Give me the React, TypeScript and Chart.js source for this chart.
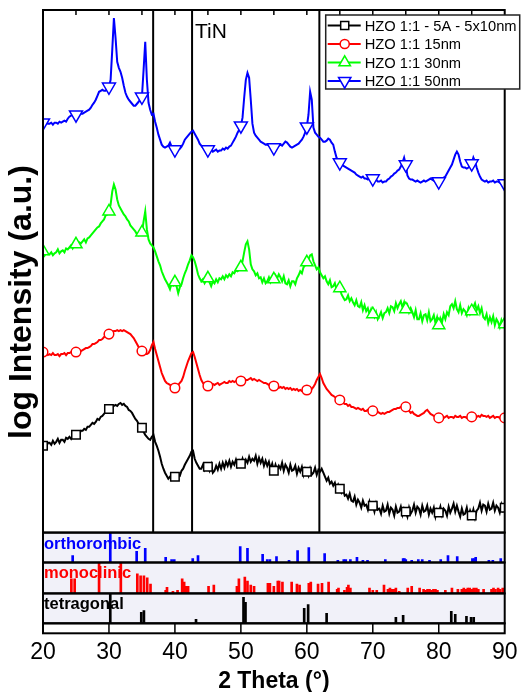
import React, { useEffect, useRef } from "react";
import { Chart, registerables } from "chart.js";

Chart.register(...registerables);

const FONT = "'Liberation Sans', Arial, Helvetica, sans-serif";

// 2θ grid of the measured patterns
const THETA_START = 20;
const THETA_STEP = 0.25;
const MARKER_EVERY = 20; // one symbol every 5°

const seriesLabels = ["HZO 1:1 - 5A - 5x10nm", "HZO 1:1 15nm", "HZO 1:1 30nm", "HZO 1:1 50nm"];
const seriesColors = ["#000000", "#ff0000", "#00ff00", "#0000ff"];
const seriesMarkers = ["rect", "circle", "triangle", "triangleDown"];

// offset log intensity (a.u.), one value every 0.25° from 20° to 90°
const hzo5x10 = [
  87, 89, 86, 90, 90, 88, 92, 89, 91, 94, 90, 93, 93, 91, 95, 94, 96, 94, 98, 97,
  98, 100, 99, 102, 102, 104, 103, 106, 106, 108, 110, 109, 111, 114, 113, 116, 117, 119, 121, 122,
  124, 125, 126, 127, 128, 127, 129, 130, 128, 129, 127, 126, 123, 122, 120, 117, 114, 112, 109, 107,
  105, 101, 98, 96, 94, 93, 96, 98, 91, 87, 82, 76, 69, 64, 60, 57, 54, 56, 53, 55,
  56, 55, 58, 57, 62, 64, 68, 71, 74, 77, 81, 82, 74, 70, 67, 64, 64, 68, 63, 67,
  66, 62, 68, 60, 62, 67, 63, 69, 64, 70, 65, 71, 67, 72, 66, 71, 68, 73, 67, 72,
  69, 74, 68, 73, 70, 76, 71, 74, 72, 77, 69, 75, 70, 74, 67, 72, 67, 71, 64, 69,
  62, 68, 63, 67, 64, 70, 62, 68, 65, 60, 68, 62, 63, 67, 59, 65, 61, 66, 58, 64,
  61, 57, 64, 58, 60, 65, 58, 63, 61, 64, 60, 56, 52, 55, 49, 51, 47, 50, 44, 48,
  44, 40, 43, 37, 38, 34, 39, 32, 31, 36, 28, 33, 30, 25, 32, 27, 28, 23, 31, 25,
  27, 21, 29, 23, 24, 19, 27, 21, 22, 28, 19, 25, 23, 17, 26, 20, 21, 26, 18, 24,
  21, 16, 25, 19, 22, 28, 20, 26, 24, 18, 27, 21, 22, 27, 18, 24, 20, 25, 16, 23,
  20, 26, 18, 24, 22, 17, 26, 20, 24, 29, 21, 27, 21, 16, 24, 18, 19, 25, 16, 22,
  17, 23, 15, 22, 24, 30, 22, 28, 27, 21, 29, 23, 24, 30, 22, 27, 25, 20, 28, 22,
  25,
];

const hzo15 = [
  181, 179, 180, 178, 179, 178, 180, 178, 178, 179, 177, 179, 179, 180, 178, 180, 180, 181, 180, 182,
  181, 182, 183, 182, 183, 184, 185, 185, 186, 187, 189, 189, 190, 191, 193, 193, 194, 196, 197, 198,
  199, 200, 201, 202, 202, 203, 202, 203, 202, 203, 202, 201, 200, 199, 197, 195, 192, 189, 186, 184,
  182, 180, 179, 179, 180, 183, 188, 191, 184, 178, 172, 166, 160, 156, 152, 150, 149, 148, 147, 146,
  145, 146, 148, 150, 152, 156, 162, 167, 172, 176, 180, 181, 176, 170, 164, 158, 153, 150, 148, 148,
  147, 148, 147, 149, 148, 149, 150, 148, 149, 150, 151, 150, 150, 152, 151, 152, 151, 152, 153, 152,
  152, 153, 154, 153, 153, 154, 155, 153, 154, 153, 152, 153, 152, 151, 150, 150, 149, 148, 149, 147,
  147, 146, 147, 145, 146, 145, 146, 144, 145, 144, 145, 143, 144, 143, 144, 142, 143, 142, 143, 144,
  143, 142, 143, 144, 146, 149, 153, 156, 159, 155, 150, 147, 144, 142, 140, 138, 137, 136, 134, 134,
  133, 131, 130, 129, 129, 127, 128, 126, 126, 125, 124, 125, 124, 123, 124, 122, 122, 123, 121, 122,
  122, 121, 120, 121, 120, 119, 120, 119, 120, 121, 121, 122, 123, 124, 124, 125, 125, 126, 126, 127,
  126, 124, 122, 120, 121, 119, 118, 117, 117, 118, 119, 120, 122, 123, 121, 119, 118, 117, 116, 116,
  115, 116, 117, 115, 116, 117, 115, 116, 116, 115, 117, 116, 116, 117, 115, 116, 116, 115, 117, 116,
  116, 117, 115, 116, 117, 116, 118, 117, 117, 116, 117, 115, 116, 117, 115, 116, 116, 115, 117, 116,
  115,
];

const hzo30 = [
  282, 278, 281, 279, 279, 281, 278, 280, 281, 284, 280, 282, 283, 281, 285, 284, 286, 288, 285, 288,
  289, 288, 291, 290, 292, 294, 291, 295, 296, 298, 300, 302, 304, 306, 307, 310, 312, 314, 318, 319,
  322, 329, 342, 349, 344, 334, 328, 325, 322, 319, 317, 314, 312, 308, 306, 304, 302, 299, 298, 300,
  301, 312, 322, 304, 294, 290, 288, 286, 282, 277, 272, 268, 262, 258, 254, 251, 248, 244, 250, 248,
  251, 247, 240, 246, 249, 255, 260, 264, 269, 273, 278, 276, 272, 266, 259, 255, 252, 254, 250, 253,
  255, 251, 247, 252, 250, 254, 251, 255, 254, 257, 254, 258, 256, 259, 257, 261, 260, 263, 262, 264,
  266, 272, 281, 289, 292, 284, 269, 264, 262, 258, 260, 255, 256, 251, 255, 250, 252, 256, 251, 254,
  254, 258, 255, 259, 256, 252, 257, 250, 249, 253, 247, 252, 252, 249, 255, 258, 262, 260, 266, 268,
  271, 274, 278, 279, 272, 268, 264, 266, 261, 258, 255, 257, 252, 249, 253, 246, 247, 250, 244, 248,
  245, 239, 236, 233, 234, 238, 232, 235, 231, 228, 233, 227, 226, 231, 223, 228, 222, 225, 219, 224,
  219, 216, 221, 214, 217, 221, 215, 220, 221, 225, 220, 227, 226, 222, 230, 225, 229, 232, 226, 231,
  224, 228, 221, 225, 221, 216, 223, 214, 214, 220, 212, 218, 219, 213, 221, 212, 214, 218, 210, 216,
  208, 215, 211, 219, 214, 221, 218, 227, 229, 225, 232, 224, 221, 228, 220, 224, 222, 218, 225, 219,
  222, 226, 230, 223, 227, 220, 225, 216, 214, 219, 210, 216, 211, 217, 208, 214, 211, 206, 213, 208,
  209,
];

const hzo50 = [
  411, 410, 412, 410, 410, 411, 409, 411, 411, 410, 412, 411, 412, 413, 412, 415, 417, 418, 419, 418,
  419, 418, 419, 420, 420, 421, 422, 423, 424, 426, 429, 431, 434, 438, 442, 443, 444, 443, 443, 445,
  447, 454, 484, 516, 496, 472, 466, 462, 456, 448, 441, 437, 434, 432, 430, 428, 428, 430, 432, 434,
  437, 464, 492, 454, 431, 424, 419, 420, 412, 406, 399, 394, 389, 387, 386, 387, 388, 391, 387, 385,
  384, 383, 384, 385, 387, 390, 394, 396, 398, 400, 402, 403, 400, 397, 394, 390, 388, 386, 385, 384,
  384, 383, 384, 382, 383, 384, 382, 383, 383, 385, 384, 386, 385, 387, 388, 391, 394, 397, 401, 404,
  408, 416, 436, 454, 461, 456, 434, 410, 401, 398, 396, 394, 392, 391, 390, 389, 389, 388, 387, 386,
  386, 387, 387, 388, 389, 388, 390, 392, 391, 389, 387, 386, 387, 388, 389, 390, 392, 394, 397, 401,
  407, 419, 442, 434, 406, 401, 399, 397, 396, 394, 392, 392, 393, 395, 394, 391, 389, 382, 376, 373,
  371, 369, 368, 367, 366, 365, 364, 363, 362, 361, 359, 358, 357, 356, 357, 355, 355, 354, 356, 354,
  355, 353, 354, 352, 352, 353, 351, 352, 352, 354, 355, 357, 358, 360, 361, 363, 364, 367, 371, 376,
  369, 358, 355, 354, 354, 353, 352, 353, 352, 351, 352, 353, 352, 353, 354, 355, 354, 353, 352, 352,
  352, 353, 355, 356, 357, 360, 363, 366, 369, 374, 379, 382, 379, 372, 367, 366, 366, 365, 366, 368,
  370, 376, 372, 366, 361, 357, 354, 353, 352, 353, 351, 352, 352, 353, 351, 352, 352, 351, 350, 351,
  350,
];

const seriesValues = [hzo5x10, hzo15, hzo30, hzo50];

// TiN substrate reflections (2θ, °)
const tinPositions = [36.7, 42.6, 61.9];

// reference patterns: positions (2θ, °) and relative intensity (%)
const orthoPos = [24.5, 30.2, 34.2, 35.5, 38.6, 39.5, 39.9, 42.7, 43.5, 49.9, 51.0, 53.3, 54.0, 54.4, 55.4, 57.3, 58.6, 60.3, 62.7, 64.7, 65.6, 65.9, 66.6, 67.6, 68.5, 69.2, 71.9, 74.6, 74.8, 75.0, 75.9, 76.9, 77.5, 78.6, 80.3, 81.4, 82.8, 85.1, 85.4, 85.6, 87.6, 88.2, 89.4];
const orthoInt = [23, 100, 37, 47, 17, 10, 10, 13, 23, 53, 47, 27, 10, 10, 20, 7, 40, 50, 30, 7, 10, 10, 10, 17, 7, 7, 10, 13, 13, 10, 7, 10, 10, 7, 10, 23, 20, 13, 13, 17, 7, 7, 13];

const monoPos = [24.3, 24.8, 28.5, 31.8, 34.3, 34.8, 35.3, 35.8, 36.3, 38.6, 38.8, 39.7, 40.4, 41.1, 41.4, 41.7, 42.0, 45.1, 45.9, 49.4, 49.7, 50.6, 51.0, 51.5, 52.0, 54.1, 54.4, 55.0, 55.6, 55.8, 56.3, 57.7, 58.5, 58.9, 60.3, 60.6, 61.7, 62.3, 63.3, 64.6, 64.8, 65.7, 66.1, 66.3, 66.6, 69.5, 70.0, 70.6, 71.7, 72.3, 72.6, 72.9, 73.2, 73.5, 74.0, 75.3, 75.9, 77.1, 77.7, 78.0, 78.3, 78.6, 78.9, 79.2, 79.5, 79.8, 81.0, 82.0, 82.9, 83.5, 83.8, 84.1, 84.4, 84.7, 85.0, 85.3, 85.7, 86.0, 86.8, 88.0, 88.3, 88.6, 89.0, 89.3, 89.7];
const monoInt = [47, 47, 100, 100, 63, 57, 57, 50, 30, 10, 20, 7, 10, 47, 37, 23, 23, 23, 27, 23, 47, 53, 40, 27, 23, 33, 33, 23, 40, 40, 37, 37, 30, 27, 33, 37, 30, 33, 37, 13, 17, 10, 20, 27, 17, 17, 10, 10, 27, 13, 17, 13, 13, 17, 7, 17, 23, 17, 13, 10, 13, 13, 10, 13, 13, 10, 10, 17, 13, 13, 17, 13, 17, 17, 13, 17, 17, 13, 13, 13, 17, 13, 17, 13, 17];

const tetraPos = [30.2, 34.9, 35.3, 43.2, 50.4, 50.7, 59.6, 60.2, 63.0, 73.5, 74.6, 81.9, 82.5, 84.2, 84.9, 85.3];
const tetraInt = [100, 37, 43, 13, 87, 70, 50, 63, 33, 20, 27, 40, 30, 23, 20, 20];

const phaseNames = ["orthorombic", "monoclinic", "tetragonal"];
const phaseColors = ["#0000ff", "#ff0000", "#000000"];

const TOP_MINOR_TICKS = [25, 30, 35, 40, 45, 50, 55, 60, 65, 70, 75, 80, 85];
const PANEL_BG = "#f1f1f9";

function markerRadius(style: string) {
  if (style === "rect") return 6;
  if (style === "circle") return 4.8;
  if (style === "triangle") return 7;
  return 7.5;
}

function drawMarker(ctx: CanvasRenderingContext2D, style: string, x: number, y: number, r: number, color: string) {
  ctx.save();
  ctx.beginPath();
  if (style === "rect") {
    const s = r * Math.SQRT1_2;
    ctx.rect(x - s, y - s, 2 * s, 2 * s);
  } else if (style === "circle") {
    ctx.arc(x, y, r, 0, Math.PI * 2);
  } else {
    const dir = style === "triangle" ? 1 : -1;
    ctx.moveTo(x, y - dir * r);
    ctx.lineTo(x + r * Math.sin((2 * Math.PI) / 3), y + dir * r * 0.5);
    ctx.lineTo(x - r * Math.sin((2 * Math.PI) / 3), y + dir * r * 0.5);
    ctx.closePath();
  }
  ctx.fillStyle = "#ffffff";
  ctx.fill();
  ctx.lineWidth = 1.5;
  ctx.strokeStyle = color;
  ctx.stroke();
  ctx.restore();
}

const decorPlugin = {
  id: "xrdDecor",
  beforeDatasetsDraw(chart: any) {
    const { ctx, chartArea, scales } = chart;
    ctx.save();
    ctx.fillStyle = PANEL_BG;
    for (const id of ["yo", "ym", "yt"]) {
      const s = scales[id];
      ctx.fillRect(chartArea.left, s.top, chartArea.right - chartArea.left, s.bottom - s.top);
    }
    ctx.restore();
  },
  afterDatasetsDraw(chart: any) {
    const { ctx, chartArea, scales } = chart;
    const xs = scales.x;
    const L = chartArea.left;
    const R = chartArea.right;
    ctx.save();

    // phase labels
    ctx.font = `bold 16.5px ${FONT}`;
    ctx.textAlign = "left";
    ctx.textBaseline = "alphabetic";
    ["yo", "ym", "yt"].forEach((id, i) => {
      ctx.fillStyle = phaseColors[i];
      ctx.fillText(phaseNames[i], L + 1, scales[id].top + 16);
    });

    // frames
    ctx.strokeStyle = "#000";
    ctx.lineWidth = 2;
    for (const id of ["y", "yo", "ym", "yt", "yb"]) {
      const s = scales[id];
      ctx.strokeRect(L, s.top, R - L, s.bottom - s.top);
    }

    // inner ticks on top
    ctx.lineWidth = 1.5;
    ctx.beginPath();
    for (const t of TOP_MINOR_TICKS) {
      const px = xs.getPixelForValue(t);
      ctx.moveTo(px, chartArea.top);
      ctx.lineTo(px, chartArea.top + 5);
    }
    // ticks in bottom strip
    const yb = scales.yb;
    for (const tk of xs.ticks) {
      if (tk.value <= xs.min || tk.value >= xs.max) continue;
      const px = xs.getPixelForValue(tk.value);
      ctx.moveTo(px, yb.top);
      ctx.lineTo(px, yb.bottom);
    }
    ctx.stroke();

    // TiN label
    ctx.fillStyle = "#000";
    ctx.font = `21px ${FONT}`;
    ctx.fillText("TiN", xs.getPixelForValue(tinPositions[1]) + 3, chartArea.top + 28);

    // legend
    const lw = 194;
    const lh = 74;
    const lx = R - 179;
    const ly = chartArea.top + 5;
    ctx.fillStyle = "#fff";
    ctx.fillRect(lx, ly, lw, lh);
    ctx.strokeStyle = "#222";
    ctx.lineWidth = 1.5;
    ctx.strokeRect(lx, ly, lw, lh);
    ctx.font = `14.7px ${FONT}`;
    ctx.textBaseline = "middle";
    seriesLabels.forEach((lab, i) => {
      const yy = ly + 10.5 + i * 18.5;
      ctx.strokeStyle = seriesColors[i];
      ctx.lineWidth = 2;
      ctx.beginPath();
      ctx.moveTo(lx + 2, yy);
      ctx.lineTo(lx + 35, yy);
      ctx.stroke();
      drawMarker(ctx, seriesMarkers[i], lx + 19, yy, markerRadius(seriesMarkers[i]) * 0.95, seriesColors[i]);
      ctx.fillStyle = "#000";
      ctx.fillText(lab, lx + 39, yy + 1);
    });

    // y title
    ctx.save();
    ctx.translate(31, 302);
    ctx.rotate(-Math.PI / 2);
    ctx.font = `bold 32px ${FONT}`;
    ctx.textAlign = "center";
    ctx.textBaseline = "alphabetic";
    ctx.fillStyle = "#000";
    ctx.fillText("log Intensity (a.u.)", 0, 0);
    ctx.restore();

    ctx.restore();
  },
};

function hiddenY(weight: number, min: number, max: number) {
  return {
    type: "linear",
    position: "left",
    stack: "xrd",
    stackWeight: weight,
    min,
    max,
    offset: false,
    grid: { display: false, drawTicks: false },
    ticks: { display: false },
    border: { display: false },
  };
}

export default function App() {
  const ref = useRef<HTMLCanvasElement | null>(null);

  useEffect(() => {
    if (!ref.current) return;
    const thetas = hzo5x10.map((_, i) => THETA_START + i * THETA_STEP);

    const lineSets = seriesValues.map((vals, k) => {
      const style = seriesMarkers[k];
      const r = markerRadius(style);
      return {
        type: "line",
        label: seriesLabels[k],
        data: vals.map((v, i) => ({ x: thetas[i], y: v })),
        yAxisID: "y",
        borderColor: seriesColors[k],
        borderWidth: 2,
        tension: 0,
        fill: false,
        pointStyle: style === "triangleDown" ? "triangle" : style,
        pointRotation: style === "triangleDown" ? 180 : 0,
        pointRadius: (c: any) => (c.dataIndex % MARKER_EVERY === 0 ? r : 0),
        pointHoverRadius: 0,
        pointBackgroundColor: "#ffffff",
        pointBorderColor: seriesColors[k],
        pointBorderWidth: 1.5,
      };
    });

    const tinSets = tinPositions.map((p) => ({
      type: "line",
      label: "TiN",
      data: [
        { x: p, y: 0 },
        { x: p, y: 524 },
      ],
      yAxisID: "y",
      borderColor: "#000",
      borderWidth: 2,
      pointRadius: 0,
    }));

    const stickSet = (pos: number[], ints: number[], axis: string, color: string) => ({
      type: "bar",
      data: pos.map((p, i) => ({ x: p, y: ints[i] })),
      yAxisID: axis,
      backgroundColor: color,
      borderWidth: 0,
      barThickness: 2,
      grouped: false,
    });

    const chart = new Chart(ref.current, {
      type: "line",
      data: {
        datasets: [
          ...lineSets,
          ...tinSets,
          stickSet(orthoPos, orthoInt, "yo", phaseColors[0]),
          stickSet(monoPos, monoInt, "ym", phaseColors[1]),
          stickSet(tetraPos, tetraInt, "yt", phaseColors[2]),
        ] as any,
      },
      options: {
        responsive: false,
        animation: false,
        devicePixelRatio: 1,
        events: [],
        layout: { padding: { left: 43, right: 16.5, top: 10, bottom: 0 } },
        plugins: { legend: { display: false }, tooltip: { enabled: false } },
        scales: {
          x: {
            type: "linear",
            position: "bottom",
            min: 20,
            max: 90,
            offset: false,
            grid: { display: false, drawTicks: false },
            border: { display: false },
            ticks: { stepSize: 10, color: "#000", padding: 7.5, font: { size: 23, family: FONT, lineHeight: 1 } },
            title: {
              display: true,
              text: "2 Theta (°)",
              color: "#000",
              padding: { top: 0, bottom: 0 },
              font: { size: 23, weight: "bold", family: FONT, lineHeight: 0.9 },
            },
          },
          yb: hiddenY(10, 0, 1),
          yt: hiddenY(30, 0, 100),
          ym: hiddenY(31, 0, 100),
          yo: hiddenY(30, 0, 100),
          y: hiddenY(524, 0, 524),
        } as any,
      },
      plugins: [decorPlugin],
    });
    return () => chart.destroy();
  }, []);

  return (
    <div style={{ position: "fixed", left: 0, top: 0, width: 525, height: 692, background: "#fff" }}>
      <canvas ref={ref} width={525} height={692} style={{ width: 525, height: 692, display: "block" }} />
    </div>
  );
}
